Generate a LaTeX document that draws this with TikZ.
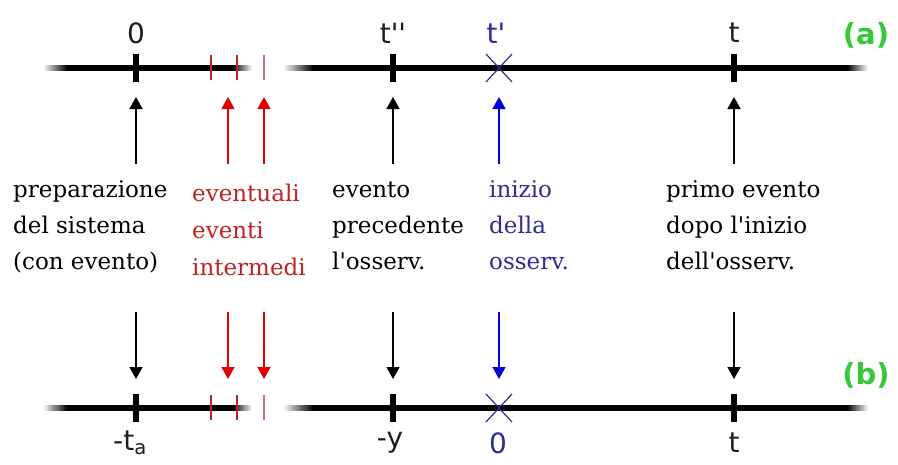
\documentclass[tikz,border=0pt]{standalone}
\usepackage{fontspec}
\setmainfont{DejaVu Serif}[Ligatures=TeXOff]
\newfontfamily\labelfont{DejaVu Sans}[Ligatures=TeXOff]
\usetikzlibrary{arrows.meta}

\definecolor{evred}{RGB}{190,35,35}
\definecolor{arrred}{RGB}{225,0,0}
\definecolor{evblue}{RGB}{45,45,150}
\definecolor{arrblue}{RGB}{0,0,215}
\definecolor{tagreen}{RGB}{55,200,55}
\definecolor{labelgray}{RGB}{30,30,30}

\tikzset{
  ticklabel/.style={font=\labelfont\fontsize{28}{32}\selectfont, text=labelgray, inner sep=0pt},
  tag/.style={font=\labelfont\bfseries\fontsize{29}{32}\selectfont, text=tagreen, inner sep=0pt},
  note/.style={font=\fontsize{23}{36}\selectfont, align=left, anchor=north west, inner sep=0pt},
  majortick/.style={line width=5.5pt, black},
  minortick/.style={line width=1.6pt, evred},
  faintick/.style={line width=1.1pt, evred!65},
  crossmark/.style={line width=1.2pt, evblue},
  evarrow/.style={line width=1.6pt, -{Triangle[length=12pt,width=13pt]}},
}

% one time axis at height #1, with soft ends and a gap
\newcommand{\timeaxis}[1]{%
  \shade[left color=white, right color=black] (43,#1-2.6) rectangle (67,#1+2.6);
  \fill[black] (66.5,#1-2.6) rectangle (233.5,#1+2.6);
  \shade[left color=black, right color=white] (233,#1-2.6) rectangle (252,#1+2.6);
  \shade[left color=white, right color=black] (283,#1-2.6) rectangle (313,#1+2.6);
  \fill[black] (312.5,#1-2.6) rectangle (847.5,#1+2.6);
  \shade[left color=black, right color=white] (847,#1-2.6) rectangle (868,#1+2.6);
}

\begin{document}
\begin{tikzpicture}[x=1pt, y=-1pt]
  \useasboundingbox (0,0) rectangle (898,464);

  % ---------- axis (a) ----------
  \timeaxis{68}
  \draw[majortick] (136,54) -- (136,82);
  \draw[minortick] (211,55) -- (211,80);
  \draw[minortick] (237,55) -- (237,80);
  \draw[faintick]  (264,55) -- (264,80);
  \draw[majortick] (393,54) -- (393,82);
  \draw[crossmark] (486,54) -- (512,82);
  \draw[crossmark] (486,82) -- (512,54);
  \draw[majortick] (734,54) -- (734,82);

  \node[ticklabel] (a0)  at (136,33) {0};
  \node[ticklabel] (att) at (393,33) {t''};
  \node[ticklabel, text=evblue] (at1) at (496,33) {t'};
  \node[ticklabel] (at)  at (734,33) {t};
  \node[tag] (taga) at (866,35) {(a)};

  % ---------- axis (b) ----------
  \timeaxis{408}
  \draw[majortick] (136,394) -- (136,422);
  \draw[minortick] (211,395) -- (211,420);
  \draw[minortick] (237,395) -- (237,420);
  \draw[faintick]  (264,395) -- (264,420);
  \draw[majortick] (393,394) -- (393,422);
  \draw[crossmark] (486,394) -- (512,422);
  \draw[crossmark] (486,422) -- (512,394);
  \draw[majortick] (734,394) -- (734,422);

  \node[ticklabel] (bta) at (130,443) {-t\textsubscript{a}};
  \node[ticklabel] (by)  at (390,443) {-y};
  \node[ticklabel, text=evblue] (b0) at (498,443) {0};
  \node[ticklabel] (bt)  at (734,443) {t};
  \node[tag] (tagb) at (866,375) {(b)};

  % ---------- descriptions ----------
  \node[note] (prep) at (13,171.8)
    {\strut preparazione\\del sistema\\(con evento)};
  \node[note, text=evred, font=\fontsize{23}{37}\selectfont] (inter) at (192,175)
    {\strut eventuali\\eventi\\intermedi};
  \node[note] (prec) at (332,171.8)
    {\strut evento\\precedente\\l'osserv.};
  \node[note, text=evblue] (iniz) at (489,171.8)
    {\strut inizio\\della\\osserv.};
  \node[note] (primo) at (666,171.8)
    {\strut primo evento\\dopo l'inizio\\dell'osserv.};

  % ---------- arrow end points ----------
  \foreach \nm/\x in {p/136, r1/228, r2/264, q/393, s/499, u/734} {
    \coordinate (up-\nm-tail) at (\x,164);
    \coordinate (up-\nm-tip)  at (\x,97);
    \coordinate (dn-\nm-tail) at (\x,312);
    \coordinate (dn-\nm-tip)  at (\x,379);
  }

  % ---------- arrows towards axis (a) ----------
  \draw[evarrow] (up-p-tail) -- (up-p-tip);
  \draw[evarrow, arrred] (up-r1-tail) -- (up-r1-tip);
  \draw[evarrow, arrred] (up-r2-tail) -- (up-r2-tip);
  \draw[evarrow] (up-q-tail) -- (up-q-tip);
  \draw[evarrow, arrblue] (up-s-tail) -- (up-s-tip);
  \draw[evarrow] (up-u-tail) -- (up-u-tip);

  % ---------- arrows towards axis (b) ----------
  \draw[evarrow] (dn-p-tail) -- (dn-p-tip);
  \draw[evarrow, arrred] (dn-r1-tail) -- (dn-r1-tip);
  \draw[evarrow, arrred] (dn-r2-tail) -- (dn-r2-tip);
  \draw[evarrow] (dn-q-tail) -- (dn-q-tip);
  \draw[evarrow, arrblue] (dn-s-tail) -- (dn-s-tip);
  \draw[evarrow] (dn-u-tail) -- (dn-u-tip);
\end{tikzpicture}
\end{document}
